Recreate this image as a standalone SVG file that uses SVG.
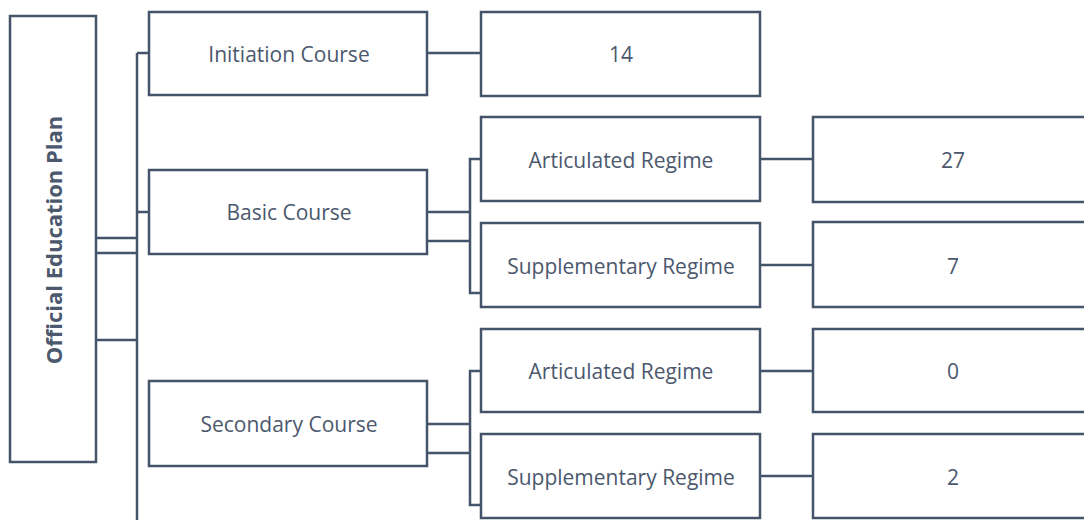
<svg xmlns="http://www.w3.org/2000/svg" width="1084" height="520" viewBox="0 0 1084 520">
  <style>
    .box { fill: #ffffff; stroke: #44546a; stroke-width: 2.5; }
    .wire { fill: none; stroke: #44546a; stroke-width: 2.5; }
    .lbl { font-family: "Open Sans", "Liberation Sans", sans-serif; font-size: 21px; fill: #4b586d; text-anchor: middle; dominant-baseline: central; }
    .title { font-weight: bold; font-size: 22px; }
  </style>
  <rect width="1084" height="520" fill="#ffffff"/>

  <!-- connectors -->
  <g id="connectors" class="wire">
    <!-- root to main bus -->
    <line x1="96" y1="238" x2="137" y2="238"/>
    <line x1="96" y1="253" x2="137" y2="253"/>
    <line x1="96" y1="340" x2="137" y2="340"/>
    <!-- main bus -->
    <line x1="137" y1="53" x2="137" y2="522"/>
    <line x1="137" y1="53" x2="149" y2="53"/>
    <line x1="137" y1="212" x2="149" y2="212"/>
    <!-- initiation to count -->
    <line x1="427" y1="53" x2="481" y2="53"/>
    <!-- basic course branch -->
    <line x1="427" y1="212" x2="470" y2="212"/>
    <line x1="427" y1="241" x2="470" y2="241"/>
    <polyline points="481,159 470,159 470,293 481,293"/>
    <!-- secondary course branch -->
    <line x1="427" y1="424" x2="470" y2="424"/>
    <line x1="427" y1="453" x2="470" y2="453"/>
    <polyline points="481,371 470,371 470,505 481,505"/>
    <!-- regimes to counts -->
    <line x1="760" y1="159" x2="813" y2="159"/>
    <line x1="760" y1="265" x2="813" y2="265"/>
    <line x1="760" y1="371" x2="813" y2="371"/>
    <line x1="760" y1="476" x2="813" y2="476"/>
  </g>

  <g id="root">
    <rect class="box" x="10" y="16" width="86" height="446"/>
    <text class="lbl title" transform="translate(53 240) rotate(-90)">Official Education Plan</text>
  </g>

  <g id="initiation">
    <rect class="box" x="149" y="12" width="278" height="83"/>
    <text class="lbl" x="289" y="54">Initiation Course</text>
  </g>
  <g id="initiation-count">
    <rect class="box" x="481" y="12" width="279" height="84"/>
    <text class="lbl" x="621" y="54">14</text>
  </g>

  <g id="basic">
    <rect class="box" x="149" y="170" width="278" height="84"/>
    <text class="lbl" x="289" y="212">Basic Course</text>
  </g>
  <g id="basic-articulated">
    <rect class="box" x="481" y="117" width="279" height="84"/>
    <text class="lbl" x="621" y="160">Articulated Regime</text>
  </g>
  <g id="basic-supplementary">
    <rect class="box" x="481" y="223" width="279" height="84"/>
    <text class="lbl" x="621" y="266">Supplementary Regime</text>
  </g>
  <g id="basic-articulated-count">
    <rect class="box" x="813" y="117" width="282" height="85"/>
    <text class="lbl" x="953" y="160">27</text>
  </g>
  <g id="basic-supplementary-count">
    <rect class="box" x="813" y="222" width="282" height="85"/>
    <text class="lbl" x="953" y="266">7</text>
  </g>

  <g id="secondary">
    <rect class="box" x="149" y="381" width="278" height="85"/>
    <text class="lbl" x="289" y="424">Secondary Course</text>
  </g>
  <g id="secondary-articulated">
    <rect class="box" x="481" y="329" width="279" height="83"/>
    <text class="lbl" x="621" y="371">Articulated Regime</text>
  </g>
  <g id="secondary-supplementary">
    <rect class="box" x="481" y="434" width="279" height="84"/>
    <text class="lbl" x="621" y="477">Supplementary Regime</text>
  </g>
  <g id="secondary-articulated-count">
    <rect class="box" x="813" y="329" width="282" height="83"/>
    <text class="lbl" x="953" y="371">0</text>
  </g>
  <g id="secondary-supplementary-count">
    <rect class="box" x="813" y="434" width="282" height="84"/>
    <text class="lbl" x="953" y="477">2</text>
  </g>
</svg>
